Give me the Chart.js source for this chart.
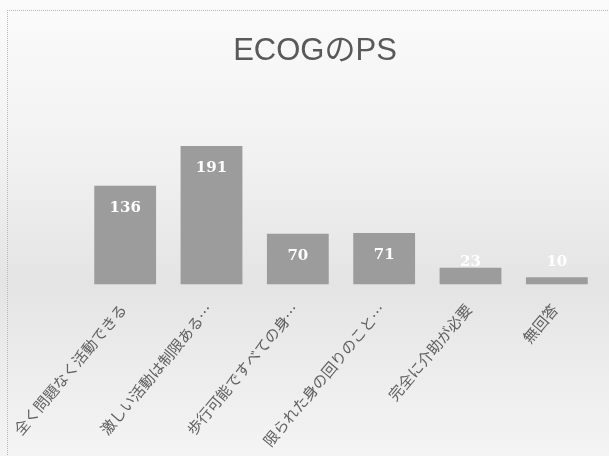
<!DOCTYPE html>
<html>
<head>
<meta charset="utf-8">
<script src="https://cdn.jsdelivr.net/npm/chart.js@4/dist/chart.umd.min.js"></script>
<style>
  html, body { margin: 0; padding: 0; }
  body {
    width: 609px; height: 456px; overflow: hidden;
    background: linear-gradient(to bottom, #fbfbfb 0%, #f1f1f1 35%, #e4e4e4 62%, #ececec 80%, #f4f4f4 100%);
  }
  #frame {
    position: absolute; left: 7px; top: 10px; width: 602px; height: 446px;
    border-left: 1px dotted #b8b8b8; border-top: 1px dotted #b8b8b8;
  }
  #wrap { position: absolute; left: 0; top: 0; width: 609px; height: 456px; }
</style>
</head>
<body>
<div id="frame"></div>
<div id="wrap"><canvas id="ecog" width="609" height="456"></canvas></div>
<script>
// ECOG PS counts
const categories = [
  '全く問題なく活動できる',
  '激しい活動は制限ある…',
  '歩行可能ですべての身…',
  '限られた身の回りのこと…',
  '完全に介助が必要',
  '無回答'
];
const counts = [136, 191, 70, 71, 23, 10];
const yMax = 250;

// white value labels inside the top of each bar
const valueLabels = {
  id: 'valueLabels',
  afterDatasetsDraw(chart) {
    var ctx = chart.ctx;
    var meta = chart.getDatasetMeta(0);
    ctx.save();
    ctx.fillStyle = '#ffffff';
    ctx.font = 'bold 15px "DejaVu Serif", serif';
    ctx.textAlign = 'center';
    ctx.textBaseline = 'middle';
    meta.data.forEach(function (bar, i) {
      var y = Math.min(bar.y + 22, bar.base - 22);
      ctx.fillText(counts[i], bar.x, y);
    });
    ctx.restore();
  }
};

var ctx = document.getElementById('ecog').getContext('2d');
var myChart = new Chart(ctx, {
  type: 'bar',
  data: {
    labels: categories,
    datasets: [{
      data: counts,
      backgroundColor: '#9c9c9c',
      borderWidth: 0,
      categoryPercentage: 1,
      barPercentage: 0.716
    }]
  },
  options: {
    responsive: false,
    animation: false,
    layout: { padding: { left: 30, right: 9, top: 0, bottom: 0 } },
    plugins: {
      legend: { display: false },
      tooltip: { enabled: false },
      title: {
        display: true,
        text: 'ECOGのPS',
        color: '#595959',
        font: { family: '"Liberation Sans", "Noto Sans CJK JP", sans-serif', size: 31, weight: 'normal' },
        padding: { top: 33, bottom: 33 }
      }
    },
    scales: {
      x: {
        grid: { display: false },
        border: { display: false },
        ticks: {
          color: '#606060',
          font: { family: '"Noto Sans CJK JP", sans-serif', size: 15 },
          minRotation: 50,
          maxRotation: 50,
          autoSkip: false,
          labelOffset: -2,
          padding: 8
        },
        afterFit: function (scale) { scale.height = 171.5; }
      },
      y: {
        display: true,
        min: 0,
        max: yMax,
        grid: { display: false },
        border: { display: false },
        ticks: { display: false },
        afterFit: function (scale) { scale.width = 52; }
      }
    }
  },
  plugins: [valueLabels]
});
</script>
</body>
</html>
